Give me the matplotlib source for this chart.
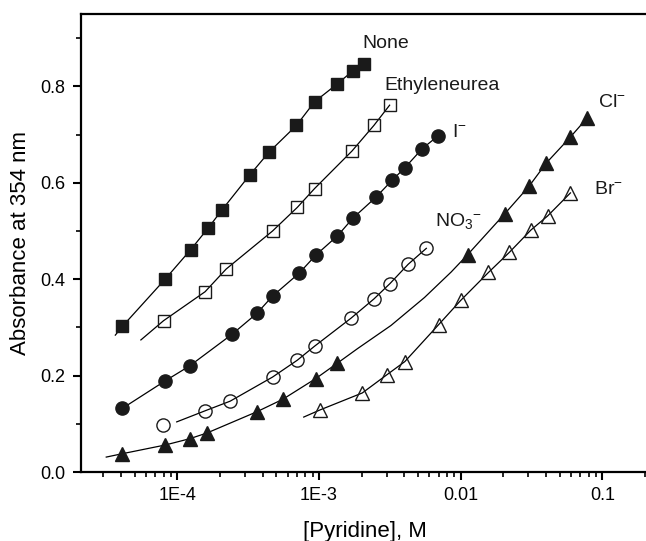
import matplotlib
matplotlib.use("Agg")
import matplotlib.pyplot as plt
from matplotlib.ticker import LogLocator, MultipleLocator, NullFormatter

plt.rcParams["font.family"] = ["Liberation Sans", "DejaVu Sans"]
plt.rcParams["mathtext.default"] = "regular"

# ---- data (pyridine conc. in M, absorbance at 354 nm) ----
none_x = [4.09e-5, 8.2e-5, 1.24e-4, 1.65e-4, 2.07e-4, 3.24e-4, 4.45e-4, 6.93e-4,
          9.3e-4, 1.33e-3, 1.73e-3, 2.09e-3]
none_y = [0.302, 0.400, 0.461, 0.506, 0.544, 0.616, 0.664, 0.719, 0.768, 0.804,
          0.832, 0.846]

eth_x = [8.0e-5, 1.57e-4, 2.21e-4, 4.7e-4, 7.03e-4, 9.3e-4, 1.71e-3, 2.44e-3, 3.15e-3]
eth_y = [0.314, 0.374, 0.421, 0.500, 0.549, 0.588, 0.666, 0.719, 0.761]

iod_x = [4.09e-5, 8.2e-5, 1.22e-4, 2.44e-4, 3.64e-4, 4.7e-4, 7.27e-4, 9.5e-4,
         1.35e-3, 1.74e-3, 2.52e-3, 3.3e-3, 4.03e-3, 5.36e-3, 6.9e-3]
iod_y = [0.132, 0.189, 0.220, 0.286, 0.329, 0.365, 0.413, 0.450, 0.490, 0.527,
         0.570, 0.606, 0.631, 0.671, 0.697]

no3_x = [7.9e-5, 1.57e-4, 2.36e-4, 4.7e-4, 7.03e-4, 9.3e-4, 1.68e-3, 2.44e-3,
         3.17e-3, 4.26e-3, 5.72e-3]
no3_y = [0.097, 0.127, 0.147, 0.197, 0.232, 0.261, 0.319, 0.359, 0.391, 0.431, 0.464]

cl_x = [4.09e-5, 8.2e-5, 1.22e-4, 1.62e-4, 3.64e-4, 5.56e-4, 9.5e-4, 1.35e-3,
        0.0112, 0.0205, 0.0304, 0.0402, 0.0595, 0.0778]
cl_y = [0.038, 0.056, 0.069, 0.081, 0.125, 0.151, 0.194, 0.226, 0.451, 0.536,
        0.593, 0.641, 0.695, 0.734]

br_x = [1.02e-3, 2.02e-3, 3.02e-3, 4.03e-3, 7.0e-3, 0.0100, 0.0157, 0.0221,
        0.0313, 0.041, 0.0595]
br_y = [0.129, 0.164, 0.202, 0.229, 0.306, 0.356, 0.414, 0.456, 0.502, 0.531, 0.579]

# fitted curves
none_fit_x = [3.65e-5] + none_x
none_fit_y = [0.284] + none_y
eth_fit_x = [5.53e-5] + eth_x
eth_fit_y = [0.274] + eth_y
iod_fit_x = iod_x
iod_fit_y = iod_y
no3_fit_x = [9.9e-5] + no3_x[1:]
no3_fit_y = [0.104] + no3_y[1:]
cl_fit_x = [3.15e-5] + cl_x[:8] + [1.87e-3, 3.22e-3, 5.55e-3, 8.57e-3] + cl_x[8:]
cl_fit_y = [0.031] + cl_y[:8] + [0.256, 0.304, 0.362, 0.415] + cl_y[8:]
br_fit_x = [7.8e-4] + br_x
br_fit_y = [0.114] + br_y

xtick_vals = [1e-4, 1e-3, 1e-2, 1e-1]
xtick_labels = ["1E-4", "1E-3", "0.01", "0.1"]

fig = plt.figure(figsize=(6.46, 5.41), dpi=100, facecolor="white")
ax = fig.add_axes([0.1254, 0.1275, 0.88, 0.8465])

lw = 0.9
ax.plot(none_fit_x, none_fit_y, "-", color="black", lw=lw, zorder=2)
ax.plot(eth_fit_x, eth_fit_y, "-", color="black", lw=lw, zorder=2)
ax.plot(iod_fit_x, iod_fit_y, "-", color="black", lw=lw, zorder=2)
ax.plot(no3_fit_x, no3_fit_y, "-", color="black", lw=lw, zorder=2)
ax.plot(cl_fit_x, cl_fit_y, "-", color="black", lw=lw, zorder=2)
ax.plot(br_fit_x, br_fit_y, "-", color="black", lw=lw, zorder=2)

ax.plot(none_x, none_y, "s", ms=8.6, mfc="#1a1a1a", mec="#1a1a1a", ls="none", zorder=3)
ax.plot(eth_x, eth_y, "s", ms=8.4, mfc="none", mec="#1a1a1a", mew=1.0, ls="none", zorder=3)
ax.plot(iod_x, iod_y, "o", ms=9.5, mfc="#1a1a1a", mec="#1a1a1a", ls="none", zorder=3)
ax.plot(no3_x, no3_y, "o", ms=9.5, mfc="none", mec="#1a1a1a", mew=1.0, ls="none", zorder=3)
ax.plot(cl_x, cl_y, "^", ms=9.5, mfc="#1a1a1a", mec="#1a1a1a", ls="none", zorder=3)
ax.plot(br_x, br_y, "^", ms=9.5, mfc="none", mec="#1a1a1a", mew=1.0, ls="none", zorder=3)

ax.set_xscale("log")
ax.set_xlim(2.09e-5, 0.215)
ax.set_ylim(0, 0.95)

ax.set_xticks(xtick_vals)
ax.set_xticklabels(xtick_labels)
ax.xaxis.set_minor_locator(LogLocator(base=10, subs=range(2, 10), numticks=20))
ax.xaxis.set_minor_formatter(NullFormatter())
ax.yaxis.set_major_locator(MultipleLocator(0.2))
ax.yaxis.set_minor_locator(MultipleLocator(0.1))
ax.yaxis.set_major_formatter(plt.FuncFormatter(lambda v, p: f"{v:.1f}"))

for s in ax.spines.values():
    s.set_linewidth(1.6)
ax.spines["right"].set_visible(False)
ax.tick_params(which="major", direction="out", length=6, width=1.5, labelsize=13, pad=5)
ax.tick_params(which="minor", direction="out", length=3.5, width=1.2)

ax.set_xlabel("[Pyridine], M", fontsize=16)
ax.set_ylabel("Absorbance at 354 nm", fontsize=16)
ax.xaxis.set_label_coords(0.5, -0.108)
ax.yaxis.set_label_coords(-0.088, 0.5)

tk = dict(fontsize=14, color="#1a1a1a")
ax.text(2.98e-3, 0.888, "None", ha="center", va="center", **tk)
ax.text(2.88e-3, 0.802, "Ethyleneurea", ha="left", va="center", **tk)
ax.text(8.75e-3, 0.705, "I$^{-}$", ha="left", va="center", **tk)
ax.text(6.55e-3, 0.52, "NO$_{3}$$^{-}$", ha="left", va="center", **tk)
ax.text(0.093, 0.766, "Cl$^{-}$", ha="left", va="center", **tk)
ax.text(0.087, 0.587, "Br$^{-}$", ha="left", va="center", **tk)

fig.savefig("out.png", dpi=100, facecolor="white")
